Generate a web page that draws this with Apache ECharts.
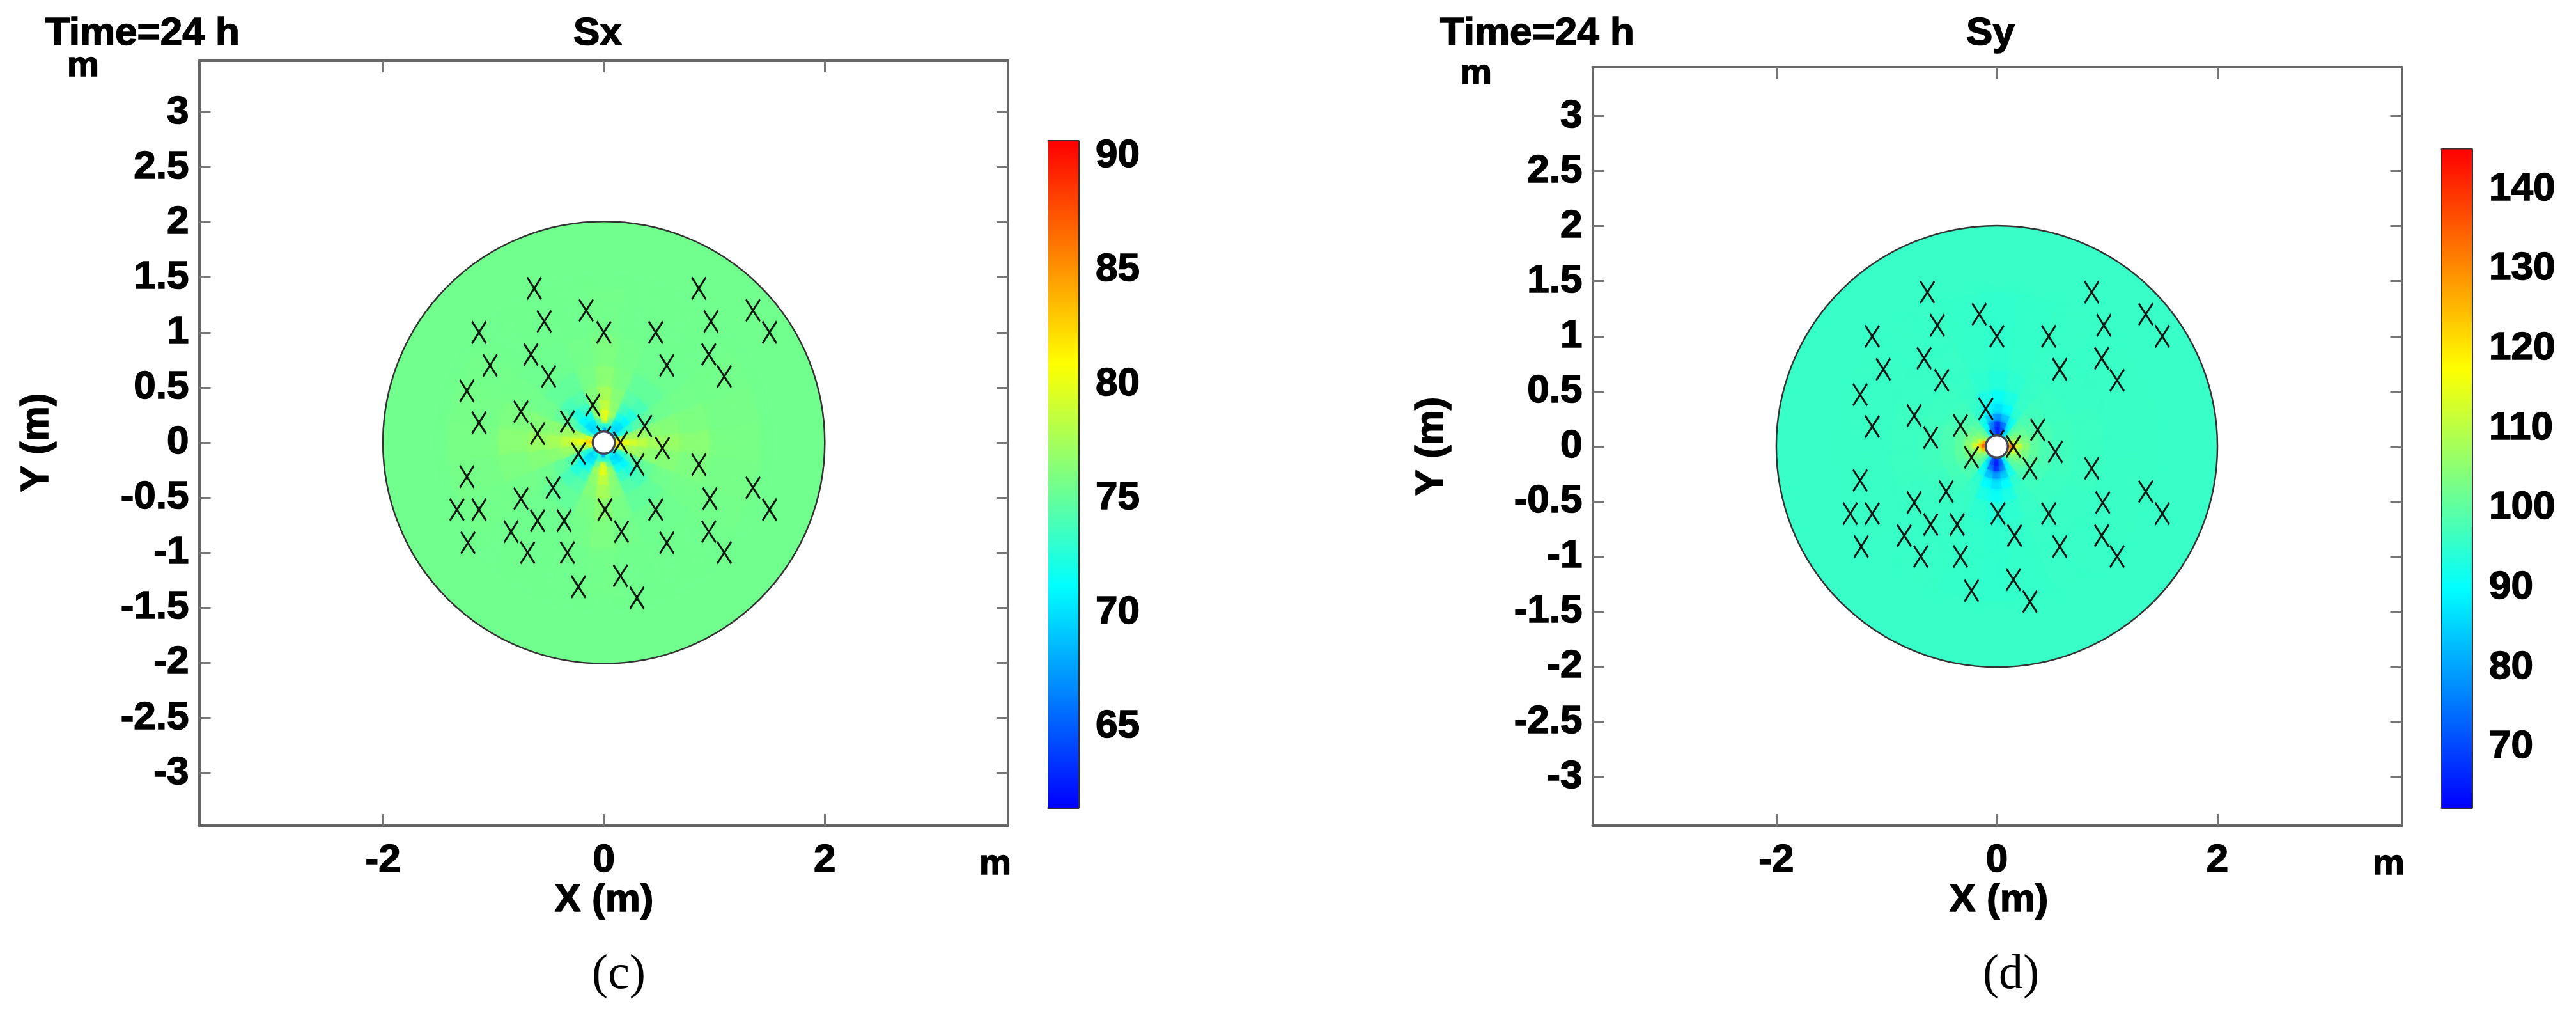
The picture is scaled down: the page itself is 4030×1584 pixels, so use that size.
<!DOCTYPE html>
<html>
<head>
<meta charset="utf-8">
<title>Sx Sy</title>
<script src="https://cdn.jsdelivr.net/npm/echarts@6/dist/echarts.min.js"></script>
<style>
  html, body { margin: 0; padding: 0; background: #fff; }
  #main { width: 4030px; height: 1584px; }
</style>
</head>
<body>
<div id="main"></div>
<script>
// element centres (m), same layout in both panels
var markerX = [-0.63, -0.54, -0.16, 0, -1.13, -1.03, -0.66, -0.5, -1.24, -1.13, -0.75, -0.6, -0.33, -0.1, 0, 0.15, 0.37, 0.53, -0.23, 0.3, 0.86,
  0.47, 0.57, 0.86, 0.97, 1.35, 1.5, 0.95, 1.09,
  -1.24, -1.33, -1.13, -1.23, -0.75, -0.84, -0.6, -0.69, -0.36, -0.33, -0.46, -0.23, 0.01, 0.16, 0.47, 0.57, 0.15, 0.3, 0.96, 1.35, 1.5, 0.95, 1.09];
var markerY = [1.4, 1.1, 1.2, 1, 1, 0.7, 0.8, 0.6, 0.47, 0.18, 0.28, 0.08, 0.19, 0.34, 0.05, 0, 0.15, -0.05, -0.1, -0.2, -0.2,
  1, 0.7, 1.4, 1.1, 1.2, 1, 0.8, 0.6,
  -0.31, -0.61, -0.61, -0.91, -0.51, -0.81, -0.71, -1, -0.71, -1, -0.41, -1.31, -0.61, -0.81, -0.61, -0.91, -1.21, -1.41, -0.51, -0.41, -0.61, -0.81, -1];

var xTicks = [-2, 0, 2];
var yTicks = [-3, -2.5, -2, -1.5, -1, -0.5, 0, 0.5, 1, 1.5, 2, 2.5, 3];
var sxTicks = [65, 70, 75, 80, 85, 90];
var syTicks = [70, 80, 90, 100, 110, 120, 130, 140];
var jetColors = ['#0000ff', '#00ffff', '#ffff00', '#ff0000'];

var discRadius = 2;
var holeRadius = 0.1;
var sxRange = [61.44, 90.65];
var syRange = [62.4, 145];
var sxBase = 75.5;
var syBase = 96;

// polar cells around the hole: ring edges (m), sector centres (deg), one row per ring
var ringEdges = [0.1, 0.13, 0.17, 0.22, 0.29, 0.38, 0.5, 0.68, 0.95, 1.4];
var sectorAngles = [0, 15, 30, 45, 60, 75, 90, 105, 120, 135, 150, 165, 180, 195, 210, 225, 240, 255, 270, 285, 300, 315, 330, 345];
var sxField = [
  [83, 81, 74, 70, 71, 73, 68, 73, 71, 70, 74, 81, 83, 81, 74, 70, 71, 73, 68, 73, 71, 70, 74, 81],
  [82, 79, 72, 69.5, 70, 73, 73, 73, 70, 69.5, 72, 79, 82, 79, 72, 69.5, 70, 73, 73, 73, 70, 69.5, 72, 79],
  [80.5, 78, 72.5, 70, 70.5, 75, 80, 75, 70.5, 70, 72.5, 78, 80.5, 78, 72.5, 70, 70.5, 75, 80, 75, 70.5, 70, 72.5, 78],
  [79.5, 77.5, 73.5, 71, 72, 77, 80, 77, 72, 71, 73.5, 77.5, 79.5, 77.5, 73.5, 71, 72, 77, 80, 77, 72, 71, 73.5, 77.5],
  [78.5, 77, 74.5, 72.5, 73.5, 76.5, 78.5, 76.5, 73.5, 72.5, 74.5, 77, 78.5, 77, 74.5, 72.5, 73.5, 76.5, 78.5, 76.5, 73.5, 72.5, 74.5, 77],
  [77.5, 76.5, 75, 74, 74.5, 76.2, 77.5, 76.2, 74.5, 74, 75, 76.5, 77.5, 76.5, 75, 74, 74.5, 76.2, 77.5, 76.2, 74.5, 74, 75, 76.5],
  [77, 76.3, 75.5, 75, 75, 75.8, 76.5, 75.8, 75, 75, 75.5, 76.3, 77, 76.3, 75.5, 75, 75, 75.8, 76.5, 75.8, 75, 75, 75.5, 76.3],
  [76.5, 76, 75.6, 75.4, 75.4, 75.6, 76, 75.6, 75.4, 75.4, 75.6, 76, 76.5, 76, 75.6, 75.4, 75.4, 75.6, 76, 75.6, 75.4, 75.4, 75.6, 76],
  [75.8, 75.7, 75.6, 75.5, 75.5, 75.5, 75.6, 75.5, 75.5, 75.5, 75.6, 75.7, 75.8, 75.7, 75.6, 75.5, 75.5, 75.5, 75.6, 75.5, 75.5, 75.5, 75.6, 75.7]
];
var syField = [
  [135, 125, 108, 100, 88, 72, 66, 72, 88, 100, 108, 125, 135, 125, 108, 100, 88, 72, 66, 72, 88, 100, 108, 125],
  [122, 112, 104, 100, 88, 72, 65, 72, 88, 100, 104, 112, 122, 112, 104, 100, 88, 72, 65, 72, 88, 100, 104, 112],
  [112, 106, 103, 100, 90, 76, 68, 76, 90, 100, 103, 106, 112, 106, 103, 100, 90, 76, 68, 76, 90, 100, 103, 106],
  [105, 103, 101, 99, 92, 84, 79, 84, 92, 99, 101, 103, 105, 103, 101, 99, 92, 84, 79, 84, 92, 99, 101, 103],
  [100, 100, 99, 98, 95, 90, 87, 90, 95, 98, 99, 100, 100, 100, 99, 98, 95, 90, 87, 90, 95, 98, 99, 100],
  [98, 98, 97.5, 97, 96, 93, 91, 93, 96, 97, 97.5, 98, 98, 98, 97.5, 97, 96, 93, 91, 93, 96, 97, 97.5, 98],
  [97, 97, 96.5, 96.5, 96, 95, 94, 95, 96, 96.5, 96.5, 97, 97, 97, 96.5, 96.5, 96, 95, 94, 95, 96, 96.5, 96.5, 97],
  [96.5, 96.5, 96.3, 96.2, 96, 95.6, 95.2, 95.6, 96, 96.2, 96.3, 96.5, 96.5, 96.5, 96.3, 96.2, 96, 95.6, 95.2, 95.6, 96, 96.2, 96.3, 96.5],
  [96.2, 96.2, 96.1, 96, 96, 95.7, 95.3, 95.7, 96, 96, 96.1, 96.2, 96.2, 96.2, 96.1, 96, 96, 95.7, 95.3, 95.7, 96, 96, 96.1, 96.2]
];

var FONT = '"Liberation Sans", Arial, sans-serif';
var FRAME = '#666';
var LABEL_SIZE = 62;
var TEXT_WEIGHT = 1.6;   // the labels look heavier than plain bold

function fieldCells(table) {
  var cells = [];
  // outer rings first so the strong inner cells stay on top
  for (var i = table.length - 1; i >= 0; i--) {
    for (var j = 0; j < sectorAngles.length; j++) {
      cells.push([ringEdges[i], ringEdges[i + 1], sectorAngles[j] - 7.5, sectorAngles[j] + 7.5, table[i][j]]);
    }
  }
  return cells;
}

function renderCell(params, api) {
  var c = api.coord([0, 0]);
  var unit = api.size([1, 0])[0];
  var color = api.visual('color');
  var r1 = api.value(1) * unit;
  return {
    type: 'sector',
    shape: {
      cx: c[0], cy: c[1],
      r0: api.value(0) * unit, r: r1,
      startAngle: -api.value(3) * Math.PI / 180,
      endAngle: -api.value(2) * Math.PI / 180,
      clockwise: true
    },
    style: { fill: color, stroke: color, lineWidth: 1, shadowColor: color, shadowBlur: 4 + r1 * 0.07 }
  };
}

function renderDisc(params, api) {
  var c = api.coord([0, 0]);
  return {
    type: 'circle',
    shape: { cx: c[0], cy: c[1], r: api.value(1) * api.size([1, 0])[0] },
    style: { fill: api.visual('color'), stroke: '#333', lineWidth: 2.5 }
  };
}

function renderHole(params, api) {
  var c = api.coord([0, 0]);
  return {
    type: 'circle',
    shape: { cx: c[0], cy: c[1], r: api.value(1) * api.size([1, 0])[0] },
    style: { fill: '#fff', stroke: '#445', lineWidth: 3.5 }
  };
}

function renderBar(params, api) {
  var p0 = api.coord([0, api.value(1)]);
  var p1 = api.coord([1, api.value(0)]);
  var stops = jetColors.map(function (c, i) {
    return { offset: i / (jetColors.length - 1), color: c };
  });
  return {
    type: 'rect',
    shape: { x: p0[0], y: p0[1], width: p1[0] - p0[0], height: p1[1] - p0[1] },
    style: { fill: new echarts.graphic.LinearGradient(0, 1, 0, 0, stops) }
  };
}

function frameLine() {
  return { show: true, onZero: false, lineStyle: { color: FRAME, width: 4 } };
}
function frameTick(values) {
  return { show: true, inside: true, length: 18, customValues: values, lineStyle: { color: '#777', width: 3 } };
}
function numberLabel(values, margin) {
  return {
    show: true, customValues: values, margin: margin, fontFamily: FONT, fontWeight: 'bold', fontSize: LABEL_SIZE, color: '#000',
    textBorderColor: '#000', textBorderWidth: TEXT_WEIGHT
  };
}

function panelXAxes(index, range) {
  return [
    { type: 'value', gridIndex: index, position: 'bottom', min: range[0], max: range[1], axisLine: frameLine(), axisTick: frameTick(xTicks), axisLabel: numberLabel(xTicks, 24), splitLine: { show: false } },
    { type: 'value', gridIndex: index, position: 'top', min: range[0], max: range[1], axisLine: frameLine(), axisTick: frameTick(xTicks), axisLabel: { show: false }, splitLine: { show: false } }
  ];
}
function panelYAxes(index, range) {
  return [
    { type: 'value', gridIndex: index, position: 'left', min: range[0], max: range[1], axisLine: frameLine(), axisTick: frameTick(yTicks), axisLabel: numberLabel(yTicks, 16), splitLine: { show: false } },
    { type: 'value', gridIndex: index, position: 'right', min: range[0], max: range[1], axisLine: frameLine(), axisTick: frameTick(yTicks), axisLabel: { show: false }, splitLine: { show: false } }
  ];
}
function barXAxes(index) {
  var line = { show: true, onZero: false, lineStyle: { color: '#333', width: 3 } };
  return [
    { type: 'value', gridIndex: index, position: 'bottom', min: 0, max: 1, axisLine: line, axisTick: { show: false }, axisLabel: { show: false }, splitLine: { show: false } },
    { type: 'value', gridIndex: index, position: 'top', min: 0, max: 1, axisLine: line, axisTick: { show: false }, axisLabel: { show: false }, splitLine: { show: false } }
  ];
}
function barYAxes(index, range, ticks) {
  var line = { show: true, onZero: false, lineStyle: { color: '#333', width: 3 } };
  var tick = { show: true, inside: true, length: 9, customValues: ticks, lineStyle: { color: '#000', width: 3 } };
  return [
    { type: 'value', gridIndex: index, position: 'right', min: range[0], max: range[1], axisLine: line, axisTick: tick, axisLabel: numberLabel(ticks, 27), splitLine: { show: false } },
    { type: 'value', gridIndex: index, position: 'left', min: range[0], max: range[1], axisLine: line, axisTick: tick, axisLabel: { show: false }, splitLine: { show: false } }
  ];
}

function panelSeries(panel, field, base) {
  var ax = panel * 2;
  var common = { xAxisIndex: ax, yAxisIndex: ax, silent: true };
  return [
    Object.assign({ type: 'custom', z: 2, renderItem: renderDisc, data: [[0, discRadius, 0, 360, base]], encode: { x: 0, y: 1 } }, common),
    Object.assign({ type: 'custom', z: 3, renderItem: renderCell, data: fieldCells(field), encode: { x: 0, y: 1 } }, common),
    Object.assign({
      type: 'scatter', z: 4, symbol: 'path://M0 0L22 34M22 0L0 34', symbolSize: [22, 34],
      itemStyle: { color: 'none', borderColor: '#000', borderWidth: 3.2, opacity: 0.9 },
      data: markerX.map(function (x, i) { return [x, markerY[i]]; })
    }, common),
    Object.assign({ type: 'custom', z: 5, renderItem: renderHole, data: [[0, holeRadius]], encode: { x: 0, y: 1 } }, common)
  ];
}

function text(str, x, y, size, extra) {
  var serif = extra && extra.serif;
  return {
    type: 'text', x: x, y: y, rotation: extra && extra.rotation || 0, z: 10,
    style: {
      text: str, x: 0, y: 0, align: 'center', verticalAlign: 'middle',
      font: serif ? (size + 'px "Liberation Serif", serif') : ('bold ' + size + 'px ' + FONT),
      fill: '#000',
      stroke: serif ? 'none' : '#000',
      lineWidth: serif ? 0 : TEXT_WEIGHT
    }
  };
}
function leftText(str, x, y, size) {
  var t = text(str, x, y, size);
  t.style.align = 'left';
  return t;
}

var option = {
  backgroundColor: '#fff',
  animation: false,
  grid: [
    { left: 311.5, top: 95, width: 1265.5, height: 1196 },
    { left: 2491.5, top: 105, width: 1266, height: 1186 },
    { left: 1640, top: 220.7, width: 47, height: 1042.3 },
    { left: 3820, top: 233.4, width: 47, height: 1029.6 }
  ],
  xAxis: [].concat(panelXAxes(0, [-3.664, 3.659]), panelXAxes(1, [-3.666, 3.672]), barXAxes(2), barXAxes(3)),
  yAxis: [].concat(panelYAxes(0, [-3.479, 3.467]), panelYAxes(1, [-3.444, 3.444]), barYAxes(2, sxRange, sxTicks), barYAxes(3, syRange, syTicks)),
  visualMap: [
    { show: false, type: 'continuous', seriesIndex: [0, 1], dimension: 4, min: sxRange[0], max: sxRange[1], inRange: { color: jetColors } },
    { show: false, type: 'continuous', seriesIndex: [4, 5], dimension: 4, min: syRange[0], max: syRange[1], inRange: { color: jetColors } }
  ],
  series: [].concat(
    panelSeries(0, sxField, sxBase),
    panelSeries(1, syField, syBase),
    [
      { type: 'custom', xAxisIndex: 4, yAxisIndex: 4, renderItem: renderBar, data: [sxRange], silent: true },
      { type: 'custom', xAxisIndex: 6, yAxisIndex: 6, renderItem: renderBar, data: [syRange], silent: true }
    ]
  ),
  graphic: [
    leftText('Time=24 h', 71, 53, 62),
    text('Sx', 935, 53, 62),
    text('m', 130, 104, 56),
    text('Y (m)', 58, 692, 62, { rotation: Math.PI / 2 }),
    text('X (m)', 945, 1408, 62),
    text('m', 1557, 1352, 56),
    text('(c)', 968, 1525, 76, { serif: true }),
    leftText('Time=24 h', 2253, 53, 62),
    text('Sy', 3114, 53, 62),
    text('m', 2309, 116, 56),
    text('Y (m)', 2240, 698, 62, { rotation: Math.PI / 2 }),
    text('X (m)', 3127, 1408, 62),
    text('m', 3737, 1352, 56),
    text('(d)', 3146, 1525, 76, { serif: true })
  ]
};

var myChart = echarts.init(document.getElementById('main'));
myChart.setOption(option);
</script>
</body>
</html>
